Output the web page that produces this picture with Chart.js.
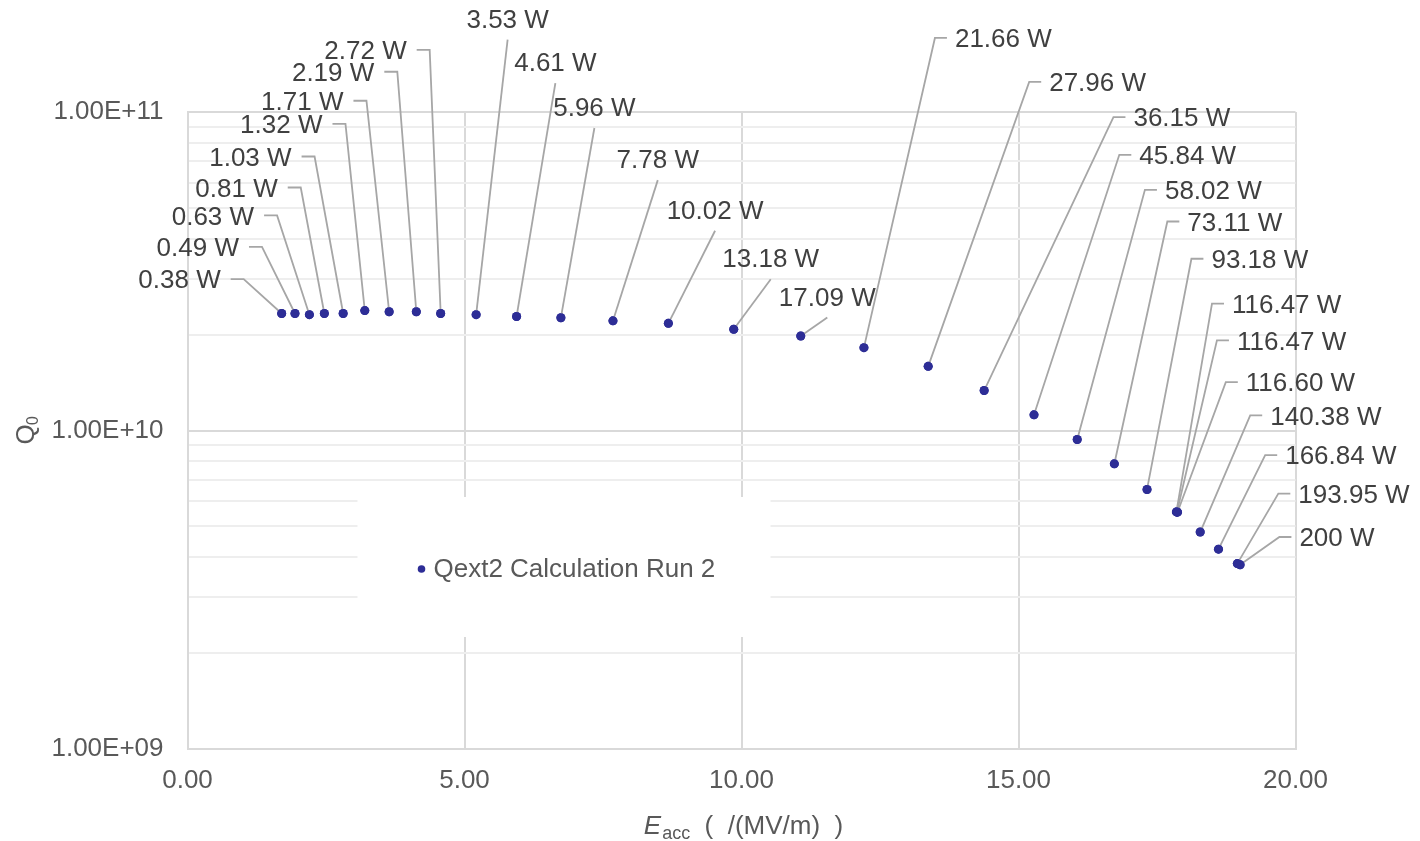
<!DOCTYPE html>
<html><head><meta charset="utf-8">
<script src="https://cdn.jsdelivr.net/npm/chart.js@4.4.1/dist/chart.umd.min.js"></script>
<style>html,body{margin:0;padding:0;background:#fff}canvas{display:block}</style>
</head><body>
<canvas id="c" width="1420" height="841"></canvas>
<script>
// ---------- data ----------
const seriesName = 'Qext2 Calculation Run 2';
const eacc = [1.70, 1.94, 2.20, 2.47, 2.81, 3.20, 3.64, 4.13, 4.57, 5.21,
              5.94, 6.74, 7.68, 8.68, 9.86, 11.07, 12.21, 13.37, 14.38, 15.28,
              16.06, 16.73, 17.32, 17.85, 17.86, 17.87, 18.28, 18.61, 18.95, 19.00];
const q0 = [2.33e10, 2.33e10, 2.31e10, 2.33e10, 2.33e10, 2.38e10, 2.36e10, 2.36e10, 2.33e10, 2.31e10,
            2.28e10, 2.26e10, 2.21e10, 2.17e10, 2.08e10, 1.98e10, 1.82e10, 1.59e10, 1.335e10, 1.12e10,
            9.37e9, 7.86e9, 6.53e9, 5.55e9, 5.55e9, 5.54e9, 4.80e9, 4.24e9, 3.82e9, 3.79e9];
const powerLabels = ['0.38 W','0.49 W','0.63 W','0.81 W','1.03 W','1.32 W','1.71 W','2.19 W','2.72 W','3.53 W',
                     '4.61 W','5.96 W','7.78 W','10.02 W','13.18 W','17.09 W','21.66 W','27.96 W','36.15 W','45.84 W',
                     '58.02 W','73.11 W','93.18 W','116.47 W','116.47 W','116.60 W','140.38 W','166.84 W','193.95 W','200 W'];
const xTickValues = [0, 5, 10, 15, 20];
const xTickLabels = ['0.00', '5.00', '10.00', '15.00', '20.00'];
const yMajorValues = [1e9, 1e10, 1e11];
const yTickLabels = ['1.00E+09', '1.00E+10', '1.00E+11'];
const yMinorMultipliers = [2, 3, 4, 5, 6, 7, 8, 9];

// ---------- label layout (offsets in px from each point) ----------
// L: text right edge at offset; R: text left edge at offset; A: text centre above point
const labelLayout = [
  ['L',-61,-34.3],['L',-56,-66.6],['L',-55.3,-99.3],['L',-46.6,-126],['L',-51.6,-157],
  ['L',-42.3,-186.7],['L',-45.7,-211],['L',-42,-240],['L',-34,-263.6],['A',31.5,-296],
  ['A',38.8,-254.4],['A',33.5,-210.7],['A',44.8,-161.7],['A',46.7,-113.6],['A',37,-71],
  ['A',26.5,-39.6],['R',91,-309.7],['R',121,-284.4],['R',149.3,-273.4],['R',105.3,-260],
  ['R',87.7,-249.7],['R',73,-242.3],['R',64.4,-230.7],['R',55.6,-208.3],['R',60,-171.6],
  ['R',68.3,-130],['R',70,-116.6],['R',66.7,-94],['R',61,-70],['R',59.3,-27.7]
];

const FONT = '"Liberation Sans", Arial, sans-serif';
const POINT_COLOR = '#2d2d96';
const LEADER_COLOR = '#a6a6a6';
const LABEL_COLOR = '#404040';
const AXIS_TEXT = '#595959';

Chart.defaults.font.family = FONT;

const points = eacc.map((x, i) => ({x: x, y: q0[i]}));

const labelPlugin = {
  id: 'dataLabels',
  afterDatasetsDraw(chart) {
    const meta = chart.getDatasetMeta(0);
    const ctx = chart.ctx;
    ctx.save();
    ctx.font = '26px ' + FONT;
    ctx.textBaseline = 'middle';
    ctx.strokeStyle = LEADER_COLOR;
    ctx.lineWidth = 1.8;
    meta.data.forEach((el, i) => {
      const [side, dx, dy] = labelLayout[i];
      const px = el.x, py = el.y, ax = px + dx, ay = py + dy;
      ctx.beginPath();
      if (side === 'L') {
        ctx.moveTo(px, py); ctx.lineTo(ax + 23, ay); ctx.lineTo(ax + 10, ay);
      } else if (side === 'R') {
        ctx.moveTo(px, py); ctx.lineTo(ax - 20, ay); ctx.lineTo(ax - 8, ay);
      } else {
        ctx.moveTo(px, py); ctx.lineTo(ax, ay + 21);
      }
      ctx.stroke();
    });
    meta.data.forEach(el => {
      ctx.beginPath();
      ctx.fillStyle = POINT_COLOR;
      ctx.arc(el.x, el.y, 4.5, 0, Math.PI * 2);
      ctx.fill();
    });
    ctx.fillStyle = LABEL_COLOR;
    meta.data.forEach((el, i) => {
      const [side, dx, dy] = labelLayout[i];
      const ax = el.x + dx, ay = el.y + dy;
      ctx.textAlign = side === 'L' ? 'right' : (side === 'R' ? 'left' : 'center');
      ctx.fillText(powerLabels[i], ax, ay + 2);
    });
    ctx.restore();
  },
  afterDraw(chart) {
    const ctx = chart.ctx;
    const a = chart.chartArea;
    ctx.save();
    // legend box inside plot area
    const lx = a.left + 170, ly = a.top + 385;
    ctx.fillStyle = '#ffffff';
    ctx.fillRect(lx, ly, 413, 140);
    ctx.fillStyle = POINT_COLOR;
    ctx.beginPath();
    ctx.arc(lx + 64, ly + 72, 3.8, 0, Math.PI * 2);
    ctx.fill();
    ctx.fillStyle = AXIS_TEXT;
    ctx.font = '26px ' + FONT;
    ctx.textBaseline = 'middle';
    ctx.textAlign = 'left';
    ctx.fillText(seriesName, lx + 76, ly + 73);

    // y axis title: Q with subscript 0
    ctx.save();
    ctx.translate(27, (a.top + a.bottom) / 2);
    ctx.rotate(-Math.PI / 2);
    ctx.font = '26px ' + FONT;
    ctx.textAlign = 'center';
    ctx.textBaseline = 'middle';
    ctx.fillText('Q', -4, 0);
    ctx.font = '16px ' + FONT;
    ctx.fillText('0', 10, 7);
    ctx.restore();

    // x axis title: E_acc ( /(MV/m) )
    const partE = 'E', partSub = 'acc', partRest = '  (  /(MV/m)  )';
    ctx.textAlign = 'left';
    ctx.textBaseline = 'alphabetic';
    ctx.font = 'italic 26px ' + FONT;
    const wE = ctx.measureText(partE).width;
    ctx.font = '18px ' + FONT;
    const wS = ctx.measureText(partSub).width;
    ctx.font = '26px ' + FONT;
    const wR = ctx.measureText(partRest).width;
    const total = wE + 1 + wS + wR;
    let x = (a.left + a.right) / 2 + 2 - total / 2;
    const base = 834;
    ctx.fillStyle = AXIS_TEXT;
    ctx.font = 'italic 26px ' + FONT;
    ctx.fillText(partE, x, base); x += wE + 1;
    ctx.font = '18px ' + FONT;
    ctx.fillText(partSub, x, base + 5); x += wS;
    ctx.font = '26px ' + FONT;
    ctx.fillText(partRest, x, base);
    ctx.restore();
  }
};

new Chart(document.getElementById('c'), {
  type: 'scatter',
  data: {
    datasets: [{
      label: seriesName,
      data: points,
      backgroundColor: POINT_COLOR,
      borderColor: POINT_COLOR,
      pointRadius: 4.5,
      pointBorderWidth: 0,
      showLine: false
    }]
  },
  options: {
    responsive: false,
    animation: false,
    events: [],
    layout: { padding: { left: 0, right: 124.5, top: 112, bottom: 0 } },
    plugins: { legend: { display: false }, tooltip: { enabled: false } },
    scales: {
      x: {
        type: 'linear',
        min: 0, max: 20,
        afterFit(scale) { scale.height = 92; },
        afterBuildTicks(scale) { scale.ticks = xTickValues.map(v => ({value: v})); },
        ticks: {
          color: AXIS_TEXT, font: { size: 26 }, padding: 16, maxRotation: 0, autoSkip: false,
          callback: (v) => { const i = xTickValues.indexOf(v); return i >= 0 ? xTickLabels[i] : ''; }
        },
        grid: { color: '#d9d9d9', lineWidth: 2, drawTicks: false },
        border: { display: true, color: '#d9d9d9', width: 2 }
      },
      y: {
        type: 'logarithmic',
        min: 1e9, max: 1e11,
        afterFit(scale) { scale.width = 187.5; },
        afterBuildTicks(scale) {
          const t = [];
          for (let d = 0; d < yMajorValues.length; d++) {
            t.push({value: yMajorValues[d], major: true});
            if (d < yMajorValues.length - 1) {
              yMinorMultipliers.forEach(m => t.push({value: m * yMajorValues[d], major: false}));
            }
          }
          scale.ticks = t;
        },
        ticks: {
          color: AXIS_TEXT, font: { size: 26 }, padding: 24, autoSkip: false,
          callback: (v) => { const i = yMajorValues.indexOf(v); return i >= 0 ? yTickLabels[i] : ''; }
        },
        grid: {
          drawTicks: false, lineWidth: 2,
          color: (c) => (c.tick && yMajorValues.indexOf(c.tick.value) >= 0) ? '#d9d9d9' : '#eeeeee'
        },
        border: { display: true, color: '#d9d9d9', width: 2 }
      }
    }
  },
  plugins: [labelPlugin]
});
</script>
</body></html>
